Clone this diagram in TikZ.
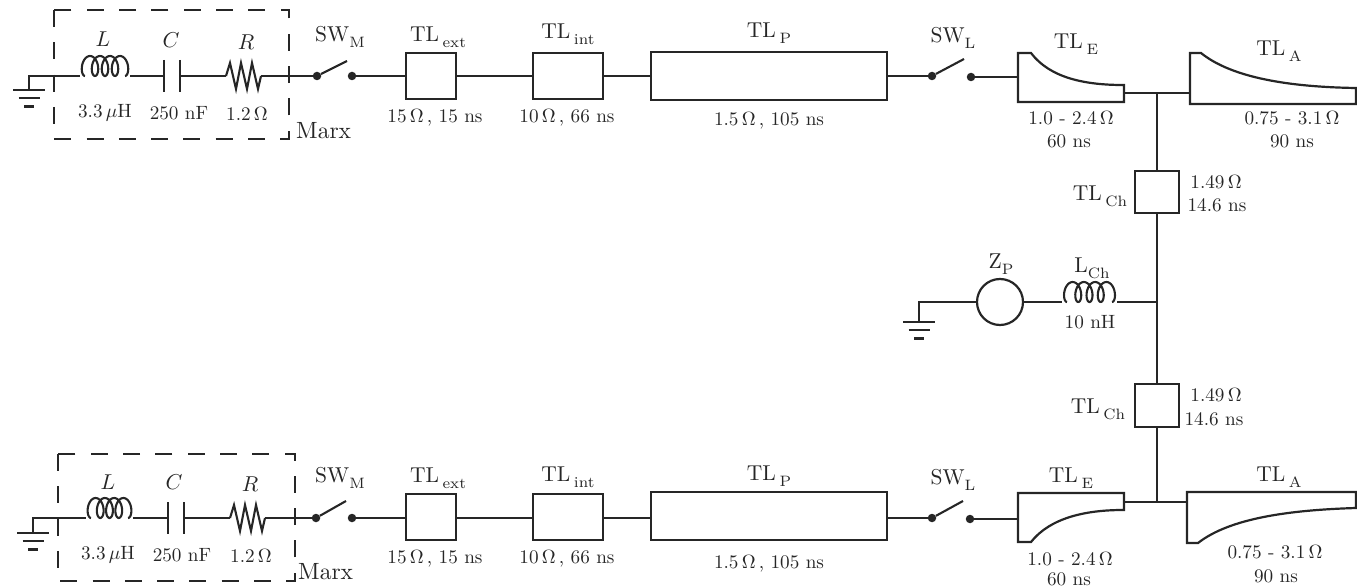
\documentclass[tikz,border=0pt]{standalone}
\usepackage{graphicx}
\colorlet{ink}{black!85}
\newcommand{\T}[1]{\scalebox{2.15}{\fontsize{10}{12}\selectfont #1}}
\newcommand{\V}[1]{\scalebox{1.92}{\fontsize{10}{12}\selectfont #1}}
\newcommand{\M}[1]{\scalebox{2.35}{\fontsize{10}{12}\selectfont #1}}
\newcommand{\Sb}[1]{\raisebox{-2.7pt}{\fontsize{7}{8}\selectfont #1}}
\tikzset{
  wire/.style={draw=ink,line width=2.1pt},
  tlbox/.style={draw=ink,line width=2.2pt,rectangle,inner sep=0pt,fill=none},
  taper/.style={draw=ink,line width=2.2pt,line join=miter},
  marxbox/.style={draw=ink,line width=2.1pt,dash pattern=on 17pt off 15.3pt},
  ttl/.style={text=ink,inner sep=0pt},
  val/.style={text=ink,inner sep=0pt},
  swdot/.style={circle,fill=ink,inner sep=0pt,minimum size=8.5pt},
  coil/.pic={\draw[wire] plot[domain=0:1440,samples=140,smooth] ({#1*(\x/1440)+5-5.5*sin(\x)},{-20*(1-cos(\x))/2});},
  gndsym/.pic={\draw[wire] (-16,0) -- (16,0) (-10.5,8) -- (10.5,8) (-5,16.5) -- (5,16.5);},
  resist/.pic={\draw[wire,line join=miter] (0,0) -- (4,-13) -- (10,13) -- (15,-13) -- (21,13) -- (26,-13) -- (32,13) -- (35,0);}
}
\begin{document}
\begin{tikzpicture}[x=1pt,y=-1pt]
\useasboundingbox (0,0) rectangle (1357,588);
% ---------- top branch
\draw[marxbox] (54,10) rectangle (289,139);
\coordinate (gA) at (29,90);
\pic at (gA) {gndsym};
\coordinate (coilAin) at (80,76);
\coordinate (coilAout) at (130,76);
\pic at (coilAin) {coil=40};
\draw[wire] (gA) |- (coilAin);
\coordinate (capAl) at (164,76);
\coordinate (capAr) at (180,76);
\draw[wire] (164,60) -- (164,92) (180,60) -- (180,92);
\draw[wire] (coilAout) -- (capAl);
\coordinate (resAin) at (226,76);
\coordinate (resAout) at (261,76);
\pic at (resAin) {resist};
\draw[wire] (capAr) -- (resAin);
\node[swdot] (smAl) at (317,76) {};
\node[swdot] (smAr) at (352,76) {};
\coordinate (smAt) at (347,61);
\draw[wire] (resAout) -- (smAl);
\draw[wire] (smAl) -- (smAt);
\node[tlbox,minimum width=50pt,minimum height=46pt] (extA) at (431,76) {};
\node[tlbox,minimum width=70pt,minimum height=46pt] (intA) at (568,76) {};
\node[tlbox,minimum width=236pt,minimum height=48pt] (pA) at (769,76) {};
\draw[wire] (smAr) -- (extA.west);
\draw[wire] (extA.east) -- (intA.west);
\draw[wire] (intA.east) -- (pA.west);
\node[swdot] (slAl) at (932,76) {};
\node[swdot] (slAr) at (971,77) {};
\coordinate (slAt) at (964,59);
\draw[wire] (pA.east) -- (slAl);
\draw[wire] (slAl) -- (slAt);
\coordinate (eAin) at (1018,77);
\coordinate (eAout) at (1124,93);
\draw[taper] (1018,53) -- (1031,53) .. controls (1050,78) and (1085,85) .. (1123,85) -- (1124,85) -- (1124,102) -- (1018,102) -- cycle;
\draw[wire] (slAr) -- (eAin);
\coordinate (aAin) at (1190,93);
\draw[taper] (1190,53) -- (1201,53) .. controls (1232,78) and (1290,87) .. (1356,88) -- (1356,104) -- (1190,104) -- cycle;
\coordinate (jA) at (1157,93);
\draw[wire] (eAout) -- (aAin);
% ---------- centre column
\node[tlbox,minimum width=44pt,minimum height=42pt] (chA) at (1157,192) {};
\node[tlbox,minimum width=44pt,minimum height=43pt] (chB) at (1157,405.5) {};
\coordinate (jC) at (1157,302);
\coordinate (jB) at (1157,502);
\draw[wire] (jA) -- (chA.north);
\draw[wire] (chA.south) -- (jC);
\draw[wire] (jC) -- (chB.north);
\draw[wire] (chB.south) -- (jB);
\node[draw=ink,line width=2.2pt,circle,inner sep=0pt,minimum size=46pt] (zp) at (1000,302) {};
\coordinate (gC) at (919,322);
\pic at (gC) {gndsym};
\draw[wire] (gC) |- (zp.west);
\coordinate (coilCin) at (1062,302);
\pic at (coilCin) {coil=45};
\coordinate (coilCout) at (1117,302);
\draw[wire] (zp.east) -- (coilCin);
\draw[wire] (coilCout) -- (jC);
% ---------- bottom branch
\draw[marxbox] (58,454) rectangle (295,581);
\coordinate (gB) at (33,533);
\pic at (gB) {gndsym};
\coordinate (coilBin) at (86,518);
\coordinate (coilBout) at (133,518);
\pic at (coilBin) {coil=37};
\draw[wire] (gB) |- (coilBin);
\coordinate (capBl) at (168,518);
\coordinate (capBr) at (184,518);
\draw[wire] (168,502) -- (168,534) (184,502) -- (184,534);
\draw[wire] (coilBout) -- (capBl);
\coordinate (resBin) at (230,518);
\coordinate (resBout) at (265,518);
\pic at (resBin) {resist};
\draw[wire] (capBr) -- (resBin);
\node[swdot] (smBl) at (316,518) {};
\node[swdot] (smBr) at (352,518) {};
\coordinate (smBt) at (346,501);
\draw[wire] (resBout) -- (smBl);
\draw[wire] (smBl) -- (smBt);
\node[tlbox,minimum width=50pt,minimum height=46pt] (extB) at (431,517) {};
\node[tlbox,minimum width=70pt,minimum height=46pt] (intB) at (568,517) {};
\node[tlbox,minimum width=236pt,minimum height=48pt] (pB) at (769,516) {};
\draw[wire] (smBr) -- (smBr -| extB.west);
\draw[wire] (smBr -| extB.east) -- (smBr -| intB.west);
\draw[wire] (smBr -| intB.east) -- (smBr -| pB.west);
\node[swdot] (slBl) at (932,518) {};
\node[swdot] (slBr) at (970,519) {};
\coordinate (slBt) at (963,501);
\draw[wire] (slBl -| pB.east) -- (slBl);
\draw[wire] (slBl) -- (slBt);
\coordinate (eBin) at (1018,519);
\coordinate (eBout) at (1124,502);
\draw[taper] (1018,493) -- (1124,493) -- (1124,510) -- (1123,510) .. controls (1085,510) and (1050,518) .. (1031,542) -- (1018,542) -- cycle;
\draw[wire] (slBr) -- (eBin);
\coordinate (aBin) at (1187,502);
\draw[taper] (1187,492) -- (1356,492) -- (1356,508) .. controls (1290,510) and (1230,518) .. (1198,543) -- (1187,543) -- cycle;
\draw[wire] (eBout) -- (aBin);
% ---------- labels, top
\node[ttl] (tL) at (103,39) {\T{$L$}};
\node[ttl] (tC) at (171,40) {\T{$C$}};
\node[ttl] (tR) at (246,42) {\T{$R$}};
\node[val] (vL) at (105,113) {\V{3.3\,$\mu$H}};
\node[val] (vC) at (179,113) {\V{250 nF}};
\node[val] (vR) at (247,114) {\V{1.2\,$\Omega$}};
\node[ttl,anchor=north west] (mA) at (296,122) {\M{Marx}};
\node[ttl] (tsm) at (340,37) {\T{SW\Sb{M}}};
\node[ttl] (tex) at (438,37) {\T{TL\,\Sb{ext}}};
\node[val] (vex) at (435,118) {\V{15\,$\Omega$\,, 15 ns}};
\node[ttl] (tin) at (568,34) {\T{TL\,\Sb{int}}};
\node[val] (vin) at (567,118) {\V{10\,$\Omega$\,, 66 ns}};
\node[ttl] (tp) at (769,33) {\T{TL\,\Sb{P}}};
\node[val] (vp) at (769,121) {\V{1.5\,$\Omega$\,, 105 ns}};
\node[ttl] (tsl) at (953,38) {\T{SW\Sb{L}}};
\node[ttl] (te) at (1076,44) {\T{TL\,\Sb{E}}};
\node[val] (ve) at (1071,118) {\V{1.0 - 2.4\,$\Omega$}};
\node[val] (ve2) at (1069,141) {\V{60 ns}};
\node[ttl] (ta) at (1279,51) {\T{TL\,\Sb{A}}};
\node[val] (va) at (1292,118) {\V{0.75 - 3.1\,$\Omega$}};
\node[val] (va2) at (1292,141) {\V{90 ns}};
\node[ttl] (tch) at (1100,196) {\T{TL\,\Sb{Ch}}};
\node[val] (vch) at (1216,182) {\V{1.49\,$\Omega$}};
\node[val] (vch2) at (1217,205) {\V{14.6 ns}};
\node[ttl] (tz) at (1001,264) {\T{Z\Sb{P}}};
\node[ttl] (tlc) at (1092,268) {\T{L\Sb{Ch}}};
\node[val] (vlc) at (1090,322) {\V{10 nH}};
% ---------- labels, bottom
\node[ttl] (bL) at (108,482) {\T{$L$}};
\node[ttl] (bC) at (174,482) {\T{$C$}};
\node[ttl] (bR) at (250,484) {\T{$R$}};
\node[val] (bvL) at (108,555) {\V{3.3\,$\mu$H}};
\node[val] (bvC) at (182,555) {\V{250 nF}};
\node[val] (bvR) at (251,556) {\V{1.2\,$\Omega$}};
\node[ttl,anchor=north west] (mB) at (298,563) {\M{Marx}};
\node[ttl] (bsm) at (340,478) {\T{SW\Sb{M}}};
\node[ttl] (bex) at (438,478) {\T{TL\,\Sb{ext}}};
\node[val] (bvex) at (435,559) {\V{15\,$\Omega$\,, 15 ns}};
\node[ttl] (bin) at (568,477) {\T{TL\,\Sb{int}}};
\node[val] (bvin) at (567,559) {\V{10\,$\Omega$\,, 66 ns}};
\node[ttl] (bp) at (769,476) {\T{TL\,\Sb{P}}};
\node[val] (bvp) at (769,564) {\V{1.5\,$\Omega$\,, 105 ns}};
\node[ttl] (bsl) at (953,480) {\T{SW\Sb{L}}};
\node[ttl] (be) at (1071,478) {\T{TL\,\Sb{E}}};
\node[val] (bve) at (1070,559) {\V{1.0 - 2.4\,$\Omega$}};
\node[val] (bve2) at (1069,579.5) {\V{60 ns}};
\node[ttl] (ba) at (1279,477) {\T{TL\,\Sb{A}}};
\node[val] (bva) at (1275,552) {\V{0.75 - 3.1\,$\Omega$}};
\node[val] (bva2) at (1276,576) {\V{90 ns}};
\node[ttl] (bch) at (1098,409) {\T{TL\,\Sb{Ch}}};
\node[val] (bvch) at (1216,395) {\V{1.49\,$\Omega$}};
\node[val] (bvch2) at (1214,419) {\V{14.6 ns}};
\end{tikzpicture}
\end{document}
